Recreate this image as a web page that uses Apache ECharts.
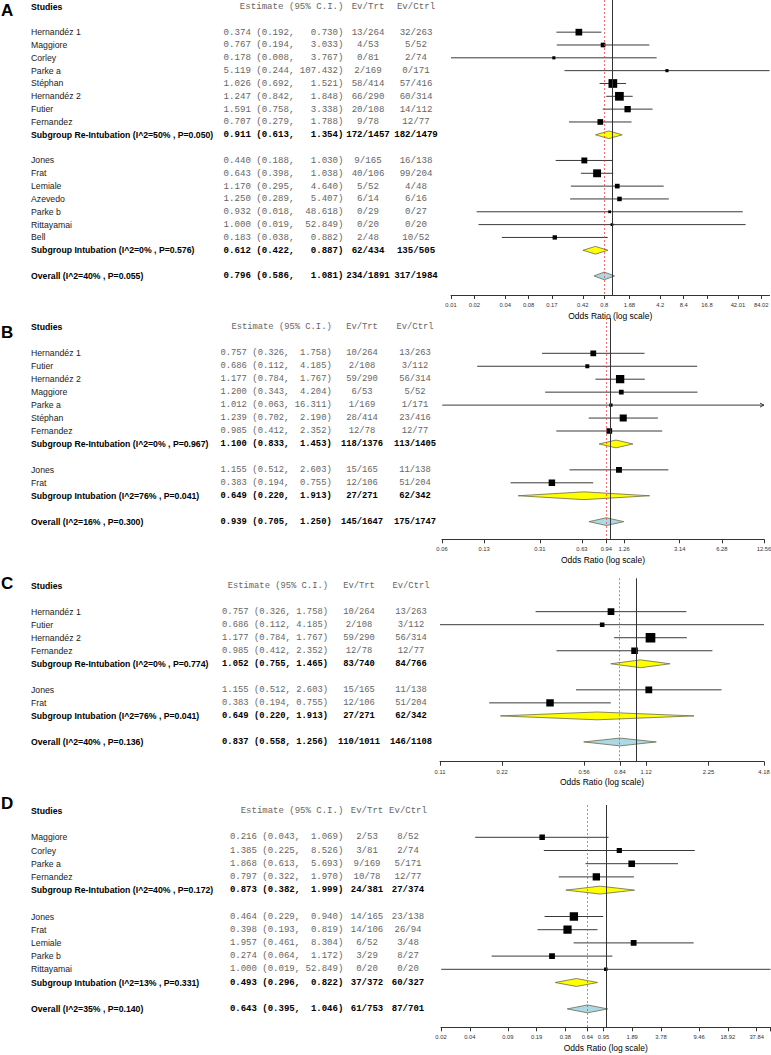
<!DOCTYPE html>
<html><head><meta charset="utf-8">
<script src="https://cdn.jsdelivr.net/npm/echarts@6/dist/echarts.min.js"></script>
<style>html,body{margin:0;padding:0;background:#fff}#c{width:771px;height:1055px}</style>
</head><body><div id="c"></div>
<script>
// ---------- Panel A ----------
const aNames = ['Hernandéz 1','Maggiore','Corley','Parke a','Stéphan','Hernandéz 2','Futier','Fernandez','Jones','Frat','Lemiale','Azevedo','Parke b','Rittayamai','Bell'];
const aGroup = [0,0,0,0,0,0,0,0,1,1,1,1,1,1,1];
const aEst = [0.374,0.767,0.178,5.119,1.026,1.247,1.591,0.707,0.440,0.643,1.170,1.250,0.932,1.000,0.183];
const aLo  = [0.192,0.194,0.008,0.244,0.692,0.842,0.758,0.279,0.188,0.398,0.295,0.289,0.018,0.019,0.038];
const aHi  = [0.730,3.033,3.767,107.432,1.521,1.848,3.338,1.788,1.030,1.038,4.640,5.407,48.618,52.849,0.882];
const aTrt = ['13/264','4/53','0/81','2/169','58/414','66/290','20/108','9/78','9/165','40/106','5/52','6/14','0/29','0/20','2/48'];
const aCtrl= ['32/263','5/52','2/74','0/171','57/416','60/314','14/112','12/77','16/138','99/204','4/48','6/16','0/27','0/20','10/52'];
const aSubNames = ['Subgroup Re-Intubation (I^2=50% , P=0.050)','Subgroup Intubation (I^2=0% , P=0.576)'];
const aSubEst = [0.911,0.612], aSubLo = [0.613,0.422], aSubHi = [1.354,0.887];
const aSubTrt = ['172/1457','62/434'], aSubCtrl = ['182/1479','135/505'];
const aOverall = ['Overall (I^2=40% , P=0.055)', 0.796, 0.586, 1.081, '234/1891', '317/1984'];
const aRange = [0.0084, 107.432];
const aTickVals = [0.0084,0.0168,0.042,0.084,0.168,0.42,0.796,1.68,4.2,8.4,16.8,42.01,84.02];
const aTickLabels = ['0.01','0.02','0.04','0.08','0.17','0.42','0.8','1.68','4.2','8.4','16.8','42.01','84.02'];

// ---------- Panel B ----------
const bNames = ['Hernandéz 1','Futier','Hernandéz 2','Maggiore','Parke a','Stéphan','Fernandez','Jones','Frat'];
const bGroup = [0,0,0,0,0,0,0,1,1];
const bEst = [0.757,0.686,1.177,1.200,1.012,1.239,0.985,1.155,0.383];
const bLo  = [0.326,0.112,0.784,0.343,0.063,0.702,0.412,0.512,0.194];
const bHi  = [1.758,4.185,1.767,4.204,16.311,2.190,2.352,2.603,0.755];
const bTrt = ['10/264','2/108','59/290','6/53','1/169','28/414','12/78','15/165','12/106'];
const bCtrl= ['13/263','3/112','56/314','5/52','1/171','23/416','12/77','11/138','51/204'];
const bSubNames = ['Subgroup Re-Intubation (I^2=0% , P=0.967)','Subgroup Intubation (I^2=76% , P=0.041)'];
const bSubEst = [1.100,0.649], bSubLo = [0.833,0.220], bSubHi = [1.453,1.913];
const bSubTrt = ['118/1376','27/271'], bSubCtrl = ['113/1405','62/342'];
const bOverall = ['Overall (I^2=16% , P=0.300)', 0.939, 0.705, 1.250, '145/1647', '175/1747'];
const bRange = [0.0628, 12.56];
const bTickVals = [0.0628,0.1256,0.314,0.628,0.939,1.256,3.14,6.28,12.56];
const bTickLabels = ['0.06','0.13','0.31','0.63','0.94','1.26','3.14','6.28','12.56'];

// ---------- Panel C ----------
const cNames = ['Hernandéz 1','Futier','Hernandéz 2','Fernandez','Jones','Frat'];
const cGroup = [0,0,0,0,1,1];
const cEst = [0.757,0.686,1.177,0.985,1.155,0.383];
const cLo  = [0.326,0.112,0.784,0.412,0.512,0.194];
const cHi  = [1.758,4.185,1.767,2.352,2.603,0.755];
const cTrt = ['10/264','2/108','59/290','12/78','15/165','12/106'];
const cCtrl= ['13/263','3/112','56/314','12/77','11/138','51/204'];
const cSubNames = ['Subgroup Re-Intubation (I^2=0% , P=0.774)','Subgroup Intubation (I^2=76% , P=0.041)'];
const cSubEst = [1.052,0.649], cSubLo = [0.755,0.220], cSubHi = [1.465,1.913];
const cSubTrt = ['83/740','27/271'], cSubCtrl = ['84/766','62/342'];
const cOverall = ['Overall (I^2=40% , P=0.136)', 0.837, 0.558, 1.256, '110/1011', '146/1108'];
const cRange = [0.112, 4.185];
const cTickVals = [0.112,0.224,0.56,0.837,1.12,2.25,4.185];
const cTickLabels = ['0.11','0.22','0.56','0.84','1.12','2.25','4.18'];

// ---------- Panel D ----------
const dNames = ['Maggiore','Corley','Parke a','Fernandez','Jones','Frat','Lemiale','Parke b','Rittayamai'];
const dGroup = [0,0,0,0,1,1,1,1,1];
const dEst = [0.216,1.385,1.868,0.797,0.464,0.398,1.957,0.274,1.000];
const dLo  = [0.043,0.225,0.613,0.322,0.229,0.193,0.461,0.064,0.019];
const dHi  = [1.069,8.526,5.693,1.970,0.940,0.819,8.304,1.172,52.849];
const dTrt = ['2/53','3/81','9/169','10/78','14/165','14/106','6/52','3/29','0/20'];
const dCtrl= ['8/52','2/74','5/171','12/77','23/138','26/94','3/48','8/27','0/20'];
const dSubNames = ['Subgroup Re-Intubation (I^2=40% , P=0.172)','Subgroup Intubation (I^2=13% , P=0.331)'];
const dSubEst = [0.873,0.493], dSubLo = [0.382,0.296], dSubHi = [1.999,0.822];
const dSubTrt = ['24/381','37/372'], dSubCtrl = ['27/374','60/327'];
const dOverall = ['Overall (I^2=35% , P=0.140)', 0.643, 0.395, 1.046, '61/753', '87/701'];
const dRange = [0.0189, 52.849];
const dTickVals = [0.0189,0.0378,0.0946,0.189,0.378,0.643,0.946,1.89,3.78,9.46,18.92,37.84];
const dTickLabels = ['0.02','0.04','0.09','0.19','0.38','0.64','0.95','1.89','3.78','9.46','18.92','37.84'];

const headerName = 'Studies', headerEst = 'Estimate (95% C.I.)', headerTrt = 'Ev/Trt', headerCtrl = 'Ev/Ctrl';
const axisTitle = 'Odds Ratio (log scale)';
const letters = ['A','B','C','D'];

// ---------- layout (positions / styles only) ----------
const layouts = [
  {top:0,     axisY:295,    left:451, right:769.5, rowY0:6.5,   rowH:12.83, estRight:343.5, charW:5.45, trtC:368, ctrlC:416, mono:9.1, k:3.9, letterY:12,  endTick:false},
  {top:318,   axisY:539.3,  left:442, right:764,   rowY0:327.4, rowH:12.95, estRight:331.7, charW:5.3,  trtC:362, ctrlC:415, mono:8.8, k:3.8, letterY:334, endTick:false},
  {top:578.3, axisY:761.7,  left:440, right:764,   rowY0:585.6, rowH:13.03, estRight:328,   charW:5.3,  trtC:359, ctrlC:411, mono:8.8, k:4.4, letterY:585, endTick:false},
  {top:805,   axisY:1027.3, left:441, right:770.5, rowY0:810.9, rowH:13.2,  estRight:343.3, charW:5.4,  trtC:367, ctrlC:408, mono:9.0, k:5.0, letterY:805, endTick:true}
];
const nameX = 31, nameSize = 8.7;

const src = [
  [aNames,aGroup,aEst,aLo,aHi,aTrt,aCtrl,aSubNames,aSubEst,aSubLo,aSubHi,aSubTrt,aSubCtrl,aOverall,aRange,aTickVals,aTickLabels],
  [bNames,bGroup,bEst,bLo,bHi,bTrt,bCtrl,bSubNames,bSubEst,bSubLo,bSubHi,bSubTrt,bSubCtrl,bOverall,bRange,bTickVals,bTickLabels],
  [cNames,cGroup,cEst,cLo,cHi,cTrt,cCtrl,cSubNames,cSubEst,cSubLo,cSubHi,cSubTrt,cSubCtrl,cOverall,cRange,cTickVals,cTickLabels],
  [dNames,dGroup,dEst,dLo,dHi,dTrt,dCtrl,dSubNames,dSubEst,dSubLo,dSubHi,dSubTrt,dSubCtrl,dOverall,dRange,dTickVals,dTickLabels]
];

const L10 = Math.log10;
const f3 = v => v.toFixed(3);

const grids = [], xAxes = [], yAxes = [], series = [], titles = [];

src.forEach((s, p) => {
  const [names,group,est,lo,hi,trt,ctrl,subN,subE,subL,subH,subT,subC,ov,range,tv,tl] = s;
  const Lo = layouts[p];
  const rows = [{r:0, kind:'header', name:headerName}];
  let r = 2;
  [0,1].forEach(g => {
    names.forEach((n, i) => {
      if (group[i] === g) { rows.push({r:r++, kind:'study', name:n, est:est[i], lo:lo[i], hi:hi[i], trt:trt[i], ctrl:ctrl[i]}); }
    });
    rows.push({r:r++, kind:'sub', name:subN[g], est:subE[g], lo:subL[g], hi:subH[g], trt:subT[g], ctrl:subC[g]});
    r++;
  });
  rows.push({r:r, kind:'overall', name:ov[0], est:ov[1], lo:ov[2], hi:ov[3], trt:ov[4], ctrl:ov[5]});
  const wHi = Math.max(...rows.filter(o => o.kind !== 'header').map(o => f3(o.hi).length));
  const xmin = L10(range[0]), xmax = L10(range[1]);

  grids.push({left:Lo.left, top:Lo.top, width:Lo.right-Lo.left, height:Lo.axisY-Lo.top, containLabel:false, outerBoundsMode:'none'});
  const tickVals = tv.map(L10);
  const tickOnly = Lo.endTick ? tickVals.concat([xmax]) : tickVals;
  xAxes.push({
    type:'value', gridIndex:p, min:xmin, max:xmax, position:'bottom',
    axisLine:{show:true, onZero:false, lineStyle:{color:'#333', width:1}},
    axisTick:{show:true, customValues:tickOnly, length:4, inside:false, lineStyle:{color:'#333', width:1}},
    axisLabel:{show:true, customValues:tickVals, margin:7, fontSize:5.8, color:'#333', fontFamily:'Liberation Sans',
      formatter: v => { let bi = 0, bd = 1e9; tickVals.forEach((t, i) => { const d = Math.abs(t - v); if (d < bd) { bd = d; bi = i; } }); return tl[bi]; }},
    splitLine:{show:false},
    name:axisTitle, nameLocation:'middle', nameGap:16,
    nameTextStyle:{fontSize:8.5, color:'#000', fontFamily:'Liberation Sans'}
  });
  yAxes.push({type:'value', gridIndex:p, inverse:true, show:false,
    min:(Lo.top - Lo.rowY0)/Lo.rowH, max:(Lo.axisY - Lo.rowY0)/Lo.rowH});

  // text columns
  series.push({
    type:'custom', xAxisIndex:p, yAxisIndex:p, clip:false, silent:true, animation:false,
    data: rows.map(o => [xmin, o.r]),
    encode:{x:0, y:1},
    renderItem:(params, api) => {
      const o = rows[params.dataIndex];
      const y = api.coord([xmin, o.r])[1];
      const strong = o.kind !== 'study';
      const monoBold = (o.kind === 'sub' || o.kind === 'overall');
      const nameFont = (strong ? 'bold ' : '') + nameSize + 'px "Liberation Sans", Arial, sans-serif';
      const monoFont = (monoBold ? 'bold ' : '') + Lo.mono + 'px "Liberation Mono", "Courier New", monospace';
      const monoFill = monoBold ? '#000' : '#666';
      const ch = [];
      const t = (text, x, align, font, fill) => ch.push({type:'text', x:x, y:y,
        style:{text:text, font:font, fill:fill, textAlign:align, textVerticalAlign:'middle', align:align, verticalAlign:'middle'}});
      t(o.name, nameX, 'left', nameFont, o.kind === 'study' ? '#222' : '#000');
      if (o.kind === 'header') {
        t(headerEst, Lo.estRight, 'right', monoFont, monoFill);
        t(headerTrt, Lo.trtC, 'center', monoFont, monoFill);
        t(headerCtrl, Lo.ctrlC, 'center', monoFont, monoFill);
      } else {
        t(f3(o.hi) + ')', Lo.estRight, 'right', monoFont, monoFill);
        t('(' + f3(o.lo) + ',', Lo.estRight - (wHi + 2) * Lo.charW, 'right', monoFont, monoFill);
        t(f3(o.est), Lo.estRight - (wHi + 10) * Lo.charW, 'right', monoFont, monoFill);
        t(o.trt, Lo.trtC, 'center', monoFont, monoFill);
        t(o.ctrl, Lo.ctrlC, 'center', monoFont, monoFill);
      }
      return {type:'group', children:ch};
    }
  });

  // forest marks
  const marks = rows.filter(o => o.kind !== 'header');
  series.push({
    type:'custom', xAxisIndex:p, yAxisIndex:p, clip:true, silent:true, animation:false,
    data: marks.map(o => [L10(o.est), o.r]),
    encode:{x:0, y:1},
    renderItem:(params, api) => {
      const o = marks[params.dataIndex];
      const y = api.coord([0, o.r])[1];
      const xe = api.coord([L10(o.est), o.r])[0];
      const xl = api.coord([Math.max(L10(o.lo), xmin), o.r])[0];
      const over = L10(o.hi) > xmax;
      const xh = api.coord([Math.min(L10(o.hi), xmax), o.r])[0];
      if (o.kind === 'study') {
        const se = (Math.log(o.hi) - Math.log(o.lo)) / 3.92;
        const sz = Lo.k / Math.sqrt(se);
        const ch = [
          {type:'line', shape:{x1:xl, y1:y, x2:xh, y2:y}, style:{stroke:'#3a3a3a', lineWidth:1}},
          {type:'rect', shape:{x:xe - sz/2, y:y - sz/2, width:sz, height:sz}, style:{fill:'#000'}}
        ];
        if (over) {
          ch.push({type:'polyline', shape:{points:[[xh-4, y-2], [xh, y], [xh-4, y+2]]}, style:{stroke:'#3a3a3a', lineWidth:1, fill:null}});
        }
        return {type:'group', children:ch};
      }
      const h = api.coord([0, o.r + 0.3])[1] - y;
      const fill = o.kind === 'overall' ? '#add8e6' : '#ffff00';
      return {type:'polygon', shape:{points:[[xl, y], [xe, y - h], [xh, y], [xe, y + h]]},
        style:{fill:fill, stroke:'#6b6b4a', lineWidth:0.8}};
    },
    markLine:{
      silent:true, symbol:['none','none'], label:{show:false}, animation:false,
      data:[
        {xAxis:0, lineStyle:{color:'#333', type:'solid', width:1}},
        {xAxis:L10(ov[1]), lineStyle:{color:'#ee3333', type:[2,2], width:0.7}}
      ]
    }
  });

  titles.push({text:letters[p], left:1, top:Lo.letterY - 10, padding:0,
    textStyle:{fontSize:17, fontWeight:'bold', color:'#000', fontFamily:'Liberation Sans'}});
});

const chart = echarts.init(document.getElementById('c'), null, {renderer:'svg', width:771, height:1055});
chart.setOption({
  animation:false,
  backgroundColor:'#fff',
  title:titles,
  grid:grids, xAxis:xAxes, yAxis:yAxes, series:series
});
</script></body></html>
